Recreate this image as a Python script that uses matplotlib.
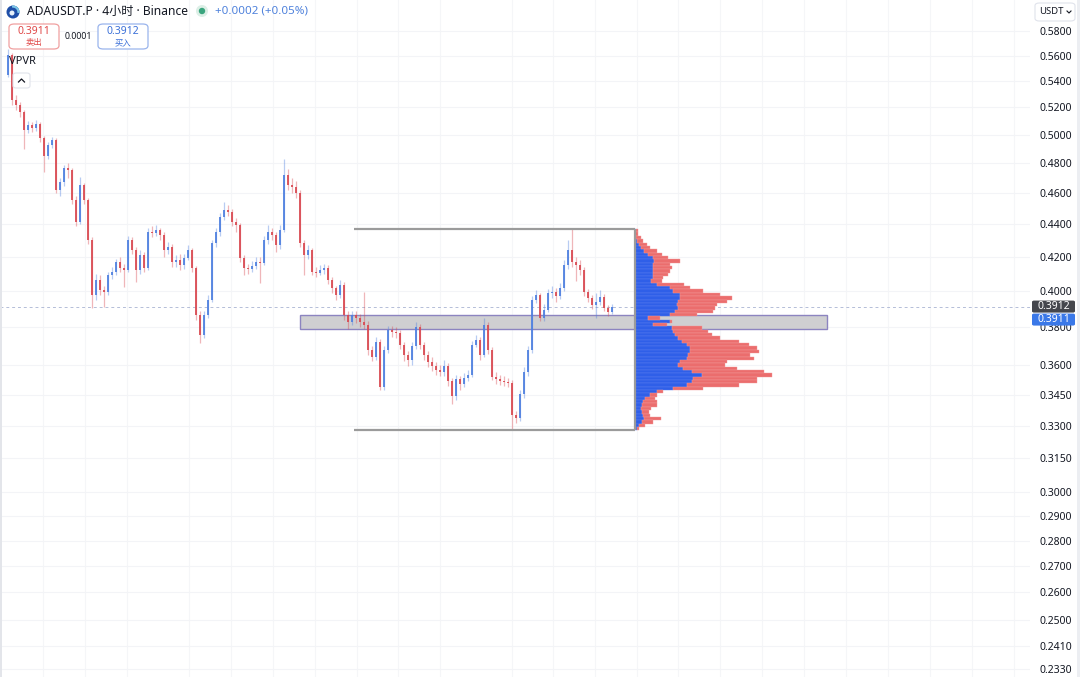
import numpy as np
import matplotlib
matplotlib.use('Agg')
from matplotlib import pyplot as plt
from matplotlib.patches import Rectangle, FancyBboxPatch, Circle, Wedge
from matplotlib.lines import Line2D
from matplotlib.ticker import NullLocator
from matplotlib.transforms import IdentityTransform

plt.rcParams['font.family'] = ['Noto Sans', 'Noto Sans CJK SC', 'DejaVu Sans']

# ADAUSDT.P 4h candles, price in USDT
first_open = 0.5450
closes = [
    0.5604, 0.5256, 0.5218, 0.5166, 0.5035, 0.5072, 0.5050, 0.5079, 0.4978, 0.4852,
    0.4929, 0.4964, 0.4622, 0.4675, 0.4769, 0.4756, 0.4556, 0.4415, 0.4655, 0.4556,
    0.4303, 0.3977, 0.4064, 0.4005, 0.3994, 0.4093, 0.4111, 0.4170, 0.4134, 0.4123,
    0.4303, 0.4240, 0.4123, 0.4211, 0.4134, 0.4353, 0.4346, 0.4365, 0.4334, 0.4240,
    0.4258, 0.4170, 0.4181, 0.4152, 0.4193, 0.4240, 0.4134, 0.3866, 0.3757, 0.3866,
    0.3949, 0.4285, 0.4353, 0.4447, 0.4492, 0.4479, 0.4415, 0.4396, 0.4193, 0.4134,
    0.4128, 0.4146, 0.4170, 0.4165, 0.4303, 0.4353, 0.4334, 0.4271, 0.4365, 0.4722,
    0.4655, 0.4642, 0.4601, 0.4285, 0.4211, 0.4240, 0.4111, 0.4105, 0.4123, 0.4134,
    0.4064, 0.4017, 0.3977, 0.4035, 0.3866, 0.3827, 0.3866, 0.3849, 0.3827, 0.3810,
    0.3678, 0.3641, 0.3720, 0.3485, 0.3678, 0.3783, 0.3773, 0.3767, 0.3704, 0.3651,
    0.3625, 0.3699, 0.3799, 0.3704, 0.3651, 0.3614, 0.3594, 0.3574, 0.3564, 0.3594,
    0.3515, 0.3441, 0.3525, 0.3500, 0.3534, 0.3549, 0.3704, 0.3731, 0.3651, 0.3810,
    0.3678, 0.3539, 0.3525, 0.3515, 0.3510, 0.3505, 0.3352, 0.3337, 0.3451, 0.3564,
    0.3678, 0.3949, 0.3977, 0.3849, 0.3894, 0.3988, 0.3994, 0.3972, 0.4017, 0.4152,
    0.4240, 0.4170, 0.4152, 0.4123, 0.3994, 0.3960, 0.3921, 0.3938, 0.3966, 0.3905,
    0.3882, 0.3911,
]
highs = [
    0.5650, 0.5620, 0.5290, 0.5240, 0.5180, 0.5100, 0.5095, 0.5110, 0.5090, 0.4990,
    0.4950, 0.4985, 0.4975, 0.4700, 0.4790, 0.4800, 0.4770, 0.4580, 0.4705, 0.4670,
    0.4570, 0.4320, 0.4100, 0.4090, 0.4030, 0.4110, 0.4140, 0.4190, 0.4200, 0.4160,
    0.4330, 0.4320, 0.4260, 0.4240, 0.4230, 0.4380, 0.4390, 0.4395, 0.4380, 0.4350,
    0.4290, 0.4275, 0.4210, 0.4215, 0.4220, 0.4270, 0.4255, 0.4145, 0.3890, 0.3890,
    0.3975, 0.4300, 0.4380, 0.4470, 0.4545, 0.4520, 0.4500, 0.4440, 0.4410, 0.4210,
    0.4160, 0.4175, 0.4200, 0.4200, 0.4330, 0.4395, 0.4380, 0.4350, 0.4395, 0.4830,
    0.4760, 0.4700, 0.4680, 0.4620, 0.4300, 0.4270, 0.4255, 0.4140, 0.4150, 0.4160,
    0.4150, 0.4080, 0.4030, 0.4064, 0.4050, 0.3890, 0.3890, 0.3885, 0.3870, 0.3994,
    0.3830, 0.3700, 0.3745, 0.3735, 0.3700, 0.3805, 0.3805, 0.3800, 0.3785, 0.3720,
    0.3670, 0.3720, 0.3826, 0.3815, 0.3720, 0.3670, 0.3640, 0.3615, 0.3600, 0.3625,
    0.3610, 0.3530, 0.3550, 0.3545, 0.3560, 0.3575, 0.3725, 0.3755, 0.3745, 0.3848,
    0.3825, 0.3695, 0.3565, 0.3550, 0.3545, 0.3530, 0.3520, 0.3370, 0.3470, 0.3590,
    0.3700, 0.3970, 0.4005, 0.3990, 0.3925, 0.4010, 0.4030, 0.4020, 0.4045, 0.4180,
    0.4303, 0.4370, 0.4200, 0.4180, 0.4140, 0.4010, 0.3980, 0.3990, 0.4005, 0.3985,
    0.3920, 0.3925,
]
lows = [
    0.5430, 0.5220, 0.5180, 0.5130, 0.4900, 0.5010, 0.5020, 0.5030, 0.4950, 0.4745,
    0.4830, 0.4910, 0.4600, 0.4580, 0.4650, 0.4700, 0.4530, 0.4390, 0.4400, 0.4530,
    0.4280, 0.3905, 0.3950, 0.3980, 0.3910, 0.3980, 0.4070, 0.4090, 0.4110, 0.4023,
    0.4110, 0.4220, 0.4050, 0.4100, 0.4110, 0.4120, 0.4320, 0.4330, 0.4300, 0.4200,
    0.4220, 0.4140, 0.4140, 0.4120, 0.4130, 0.4180, 0.4110, 0.3840, 0.3714, 0.3740,
    0.3850, 0.3935, 0.4260, 0.4330, 0.4430, 0.4450, 0.4390, 0.4350, 0.4170, 0.4093,
    0.4100, 0.4110, 0.4130, 0.4046, 0.4150, 0.4280, 0.4300, 0.4230, 0.4250, 0.4350,
    0.4620, 0.4600, 0.4570, 0.4260, 0.4093, 0.4190, 0.4090, 0.4080, 0.4090, 0.4100,
    0.4040, 0.3990, 0.3950, 0.3960, 0.3840, 0.3790, 0.3810, 0.3820, 0.3800, 0.3790,
    0.3650, 0.3620, 0.3625, 0.3470, 0.3470, 0.3660, 0.3745, 0.3740, 0.3680, 0.3620,
    0.3595, 0.3600, 0.3680, 0.3680, 0.3625, 0.3590, 0.3570, 0.3550, 0.3540, 0.3545,
    0.3490, 0.3402, 0.3425, 0.3470, 0.3485, 0.3515, 0.3535, 0.3690, 0.3625, 0.3640,
    0.3655, 0.3520, 0.3500, 0.3495, 0.3490, 0.3485, 0.3278, 0.3310, 0.3320, 0.3435,
    0.3545, 0.3660, 0.3930, 0.3830, 0.3830, 0.3880, 0.3960, 0.3940, 0.3955, 0.4000,
    0.4130, 0.4140, 0.4060, 0.4090, 0.3970, 0.3935, 0.3900, 0.3849, 0.3920, 0.3885,
    0.3860, 0.3870,
]

# VPVR rows from top to bottom of the range (buy / sell volume)
up_volume = [
    0.5, 0.3, 1.0, 2.3, 4.3, 5.7, 9.0, 13.3, 18.3, 19.3,
    18.3, 18.3, 18.3, 18.3, 17.7, 15.7, 21.7, 35.0, 38.3, 45.0,
    45.0, 43.3, 41.7, 43.3, 40.0, 35.0, 13.3, 35.0, 18.3, 36.7,
    38.3, 40.0, 43.3, 46.7, 51.7, 55.0, 55.0, 53.3, 51.7, 45.0,
    43.3, 48.3, 56.7, 66.7, 58.3, 56.7, 51.7, 38.3, 21.7, 15.0,
    10.0, 7.7, 6.7, 5.7, 6.7, 7.7, 9.0, 6.7, 4.3, 1.7,
]
down_volume = [
    2.7, 3.0, 4.7, 6.0, 7.3, 9.3, 12.7, 13.3, 15.0, 25.7,
    16.7, 18.3, 16.7, 15.0, 10.7, 11.0, 26.7, 20.0, 29.3, 40.0,
    51.7, 48.3, 40.0, 36.7, 38.3, 26.7, 11.7, 1.7, 13.3, 30.0,
    35.0, 36.7, 41.7, 56.7, 61.7, 66.7, 68.3, 61.7, 66.7, 46.7,
    46.7, 53.3, 71.7, 70.0, 63.3, 65.0, 51.7, 30.0, 6.7, 7.3,
    10.0, 14.0, 15.0, 10.0, 7.7, 7.3, 16.7, 11.7, 5.7, 2.7,
]

zone_lo, zone_hi = 0.3788, 0.3866
bid_price = 0.3911
ask_price = 0.3912

y_ticks = [0.58, 0.56, 0.54, 0.52, 0.50, 0.48, 0.46, 0.44, 0.42, 0.40, 0.38,
           0.36, 0.345, 0.33, 0.315, 0.30, 0.29, 0.28, 0.27, 0.26, 0.25, 0.241, 0.233]

W, H = 1080, 677
fig = plt.figure(figsize=(W / 100, H / 100), dpi=100)
fig.patch.set_facecolor('white')
ax = fig.add_axes([0, 0, 1030 / W, 1])

px_per_bar = 4.0


def px2x(px):
    return (px - 8) / px_per_bar


def fx(px):
    return px / W


def fy(py):
    return 1 - py / H


def dot(px, py, r, color):
    # circle in screen pixels (y measured from the top)
    fig.patches.append(Circle((px, H - py), r, transform=IdentityTransform(),
                              facecolor=color, edgecolor='none'))


ax.set_xlim(px2x(0), px2x(1030))
ax.set_yscale('log')
ax.set_ylim(0.2304, 0.6063)

# grid
ax.set_yticks(y_ticks, labels=[f'{t:.4f}' for t in y_ticks])
ax.yaxis.set_minor_locator(NullLocator())
ax.yaxis.tick_right()
ax.tick_params(axis='y', length=0, pad=7, labelsize=7.5, labelcolor='#131722')
ax.set_xticks([])
ax.yaxis.grid(True, color='#f3f4f7', lw=0.8, zorder=0)
for gx in [43, 85, 127, 189, 231, 273, 315, 357, 398, 440, 512, 553, 595, 637,
           678, 720, 762, 804, 846, 888, 930, 972, 1014]:
    ax.axvline(px2x(gx), color='#f5f6f8', lw=0.8, zorder=0)
for s in ax.spines.values():
    s.set_visible(False)

# last price line
ax.axhline(ask_price, color='#b4bdd8', lw=0.7, ls=(0, (3, 3)), zorder=1)

# candles
c = np.array(closes)
o = np.r_[first_open, c[:-1]]
idx = np.arange(len(c))
col = np.where(c >= o, '#4f80e0', '#d94a52')
ax.vlines(idx, lows, highs, colors=col, lw=0.9, alpha=0.4, zorder=3)
ax.bar(idx, np.maximum(np.abs(c - o), 0.0004), bottom=np.minimum(o, c), width=0.6,
       color=col, alpha=0.9, linewidth=0, zorder=4)

# support zone
ax.add_patch(Rectangle((px2x(300), zone_lo), px2x(827) - px2x(300), zone_hi - zone_lo,
                       facecolor='#cfcfd1', edgecolor='#8c84c0', lw=1.0, zorder=2))

# range box + volume profile
box_hi = max(highs[87:])
box_lo = min(lows[87:])
base = px2x(635)
up = np.array(up_volume)
dn = np.array(down_volume)
edges = np.geomspace(box_hi, box_lo, len(up) + 1)
bottoms = edges[1:]
heights = edges[:-1] - edges[1:]
scale = 137 / px_per_bar / (up + dn).max()
ax.barh(bottoms, up * scale, height=heights, left=base, align='edge',
        color='#2f5fe8', edgecolor='#5c80ee', lw=0.3, zorder=5)
ax.barh(bottoms, dn * scale, height=heights, left=base + up * scale, align='edge',
        color='#eb6d6d', edgecolor='#f29a9a', lw=0.3, zorder=5)
ax.hlines([box_hi, box_lo], px2x(354), base, color='#9b9b9b', lw=1.6, zorder=6)
ax.vlines(base, box_lo, box_hi, color='#9b9b9b', lw=1.6, zorder=6)

# side strips
fig.patches.append(Rectangle((0, 0), fx(2), 1, transform=fig.transFigure,
                             facecolor='#e3e5ea', edgecolor='none'))
fig.patches.append(Rectangle((fx(1077), 0), fx(3), 1, transform=fig.transFigure,
                             facecolor='#eceef2', edgecolor='none'))

# price tags on the axis
fig.canvas.draw()
ask_py = H - ax.transData.transform((0, ask_price))[1]


def price_tag(py, text, color):
    fig.patches.append(FancyBboxPatch((fx(1032), fy(py + 6)), fx(43), 12 / H,
                                      boxstyle='round,pad=0,rounding_size=0.002',
                                      transform=fig.transFigure, facecolor=color,
                                      edgecolor='none', zorder=5))
    fig.text(fx(1038), fy(py), text, color='white', fontsize=7.5, va='center', zorder=6)


price_tag(ask_py, f'{ask_price:.4f}', '#45474d')
price_tag(ask_py + 13, f'{bid_price:.4f}', '#3a78e8')

# currency selector
fig.patches.append(FancyBboxPatch((fx(1035), fy(21)), fx(40), 18 / H,
                                  boxstyle='round,pad=0,rounding_size=0.004',
                                  transform=fig.transFigure, facecolor='white',
                                  edgecolor='#e0e3eb', lw=0.8))
fig.text(fx(1039), fy(12), 'USDT', fontsize=6.8, color='#131722', va='center')
fig.lines.append(Line2D([fx(1067), fx(1069), fx(1071)], [fy(11), fy(13), fy(11)],
                        transform=fig.transFigure, color='#131722', lw=0.8))

# header
dot(13, 12, 6.5, '#1f4fa8')
fig.patches.append(Wedge((13, H - 12), 6.5, -10, 100, width=2.2,
                         transform=IdentityTransform(), facecolor='#7cc6e6',
                         edgecolor='none'))
dot(12, 13, 2.5, '#e8f2fb')
fig.text(fx(27), fy(11), 'ADAUSDT.P · 4小时 · Binance', fontsize=8.7,
         color='#131722', va='center')
dot(202, 11, 6, '#dcefe6')
dot(202, 11, 3.2, '#3aa57e')
fig.text(fx(215), fy(11), '+0.0002 (+0.05%)', fontsize=8.3, color='#4f82dc', va='center')

# sell / buy buttons
for x_left, price, label, edge, txt in [(9, f'{bid_price:.4f}', '卖出', '#f0a0a0', '#e04848'),
                                         (98, f'{ask_price:.4f}', '买入', '#9ab4ec', '#3a6fd8')]:
    fig.patches.append(FancyBboxPatch((fx(x_left), fy(49)), fx(50), 25 / H,
                                      boxstyle='round,pad=0,rounding_size=0.005',
                                      transform=fig.transFigure, facecolor='white',
                                      edgecolor=edge, lw=0.9))
    fig.text(fx(x_left + 25), fy(31), price, fontsize=7.5, color=txt,
             ha='center', va='center', fontweight='bold')
    fig.text(fx(x_left + 25), fy(42.5), label, fontsize=6, color=txt,
             ha='center', va='center')
fig.text(fx(78.5), fy(36.5), '0.0001', fontsize=6.3, color='#131722', ha='center', va='center')

# indicator legend
fig.text(fx(9), fy(62), 'VPVR', fontsize=8, color='#131722', va='center')
fig.patches.append(FancyBboxPatch((fx(13), fy(88)), fx(17), 15 / H,
                                  boxstyle='round,pad=0,rounding_size=0.003',
                                  transform=fig.transFigure, facecolor='white',
                                  edgecolor='#e0e3eb', lw=0.8))
fig.lines.append(Line2D([fx(18.5), fx(21.5), fx(24.5)], [fy(82), fy(79), fy(82)],
                        transform=fig.transFigure, color='#131722', lw=0.9))

fig.savefig('out.png', dpi=100)
